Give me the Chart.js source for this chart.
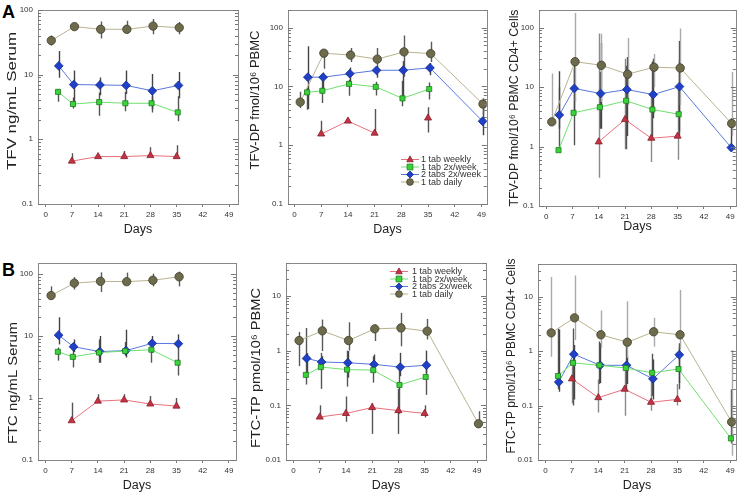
<!DOCTYPE html>
<html><head><meta charset="utf-8">
<script src="https://cdn.jsdelivr.net/npm/chart.js@4.4.0/dist/chart.umd.min.js"></script>
<style>
body{margin:0;background:#fff;width:741px;height:495px;position:relative;overflow:hidden;font-family:"Liberation Sans",Arial,sans-serif}
canvas{position:absolute}
.lab{position:absolute;font:bold 18px "Liberation Sans",Arial,sans-serif;color:#000;line-height:18px}
</style></head><body>
<div class="lab" style="left:2px;top:3px">A</div>
<div class="lab" style="left:2px;top:261px">B</div>
<canvas id="c1"></canvas><canvas id="c2"></canvas><canvas id="c3"></canvas>
<canvas id="c4"></canvas><canvas id="c5"></canvas><canvas id="c6"></canvas>
<script>
// ---------- DATA ----------
const seriesNames = ['1 tab weekly','1 tab 2x/week','2 tabs 2x/week','1 tab daily'];
const dayTicks = [0,7,14,21,28,35,42,49];
const daysWeekly = [7,14,21,28,35];
const days2x     = [3.3,7.3,14.3,21.3,28.3,35.3,49.2];
const days2tab   = [3.5,7.5,14.5,21.5,28.5,35.5,49.3];
const daysDaily  = [1.5,7.7,14.7,21.7,28.7,35.7,49.4];

// Panel A1: TFV ng/mL Serum
const tfvSerumWeekly   = [0.46,0.54,0.54,0.56,0.54];
const tfvSerumWeeklyHi = [0.61,0.58,0.66,0.75,0.81];
const tfvSerumWeeklyLo = [0.46,0.54,0.54,0.56,0.54];
const tfvSerum2x   = [5.4,3.5,3.75,3.6,3.6,2.6,null];
const tfvSerum2xHi = [6.0,4.4,5.3,5.4,4.6,4.6,null];
const tfvSerum2xLo = [3.8,3.0,2.3,2.7,2.6,1.9,null];
const tfvSerum2tab   = [13.6,7.0,6.9,6.8,5.6,6.8,null];
const tfvSerum2tabHi = [23,11.5,9.0,11.5,10.2,10.9,null];
const tfvSerum2tabLo = [8.9,3.6,4.8,5.0,2.9,4.3,null];
const tfvSerumDaily   = [33.5,55,50,50,56,53,null];
const tfvSerumDailyHi = [40,58,66,68,72,65,null];
const tfvSerumDailyLo = [28,52,36,43,42,42,null];

// Panel A2: TFV-DP fmol/10^6 PBMC
const tfvPbmcWeekly   = [1.55,2.57,1.6,null,2.9];
const tfvPbmcWeeklyHi = [2.6,2.8,4.1,null,4.4];
const tfvPbmcWeeklyLo = [1.55,2.4,1.6,null,1.65];
const tfvPbmc2x   = [7.9,8.4,11,9.8,6.25,9.0,null];
const tfvPbmc2xHi = [9.5,15.4,13,12,12.5,11.6,null];
const tfvPbmc2xLo = [4.0,5.2,6.9,7.0,4.6,6.0,null];
const tfvPbmc2tab   = [14.3,14.3,16.4,18.7,18.8,20.6,2.55];
const tfvPbmc2tabHi = [48,17,21,22,27,25,5.0];
const tfvPbmc2tabLo = [4.1,8.7,10,14,6,15.5,1.48];
const tfvPbmcDaily   = [5.4,36.6,34,29,38.5,36,5.0];
const tfvPbmcDailyHi = [8.1,40,45,45,73,57,6.3];
const tfvPbmcDailyLo = [4.3,20,26,17.5,14.5,26,3.3];

// Panel A3: TFV-DP fmol/10^6 PBMC CD4+ Cells
const tfvCd4Weekly   = [null,1.2,2.85,1.38,1.5];
const tfvCd4WeeklyHi = [null,80,30,8,10];
const tfvCd4WeeklyLo = [null,0.3,0.9,0.55,0.6];
const tfvCd42x   = [0.87,3.7,4.6,5.9,4.2,3.5,null];
const tfvCd42xHi = [10,20,18,23,27,28,null];
const tfvCd42xLo = [0.87,1.05,2,0.9,1.5,1.5,null];
const tfvCd42tab   = [3.4,9.5,7.8,9.1,7.5,10.2,0.96];
const tfvCd42tabHi = [18.5,30,55,32,30,60,3];
const tfvCd42tabLo = [2,4,2,1.5,3,1.8,0.85];
const tfvCd4Daily   = [2.6,26.8,23.3,16.5,21.6,21,2.44];
const tfvCd4DailyHi = [17,177,79,67,36,97,18];
const tfvCd4DailyLo = [2.6,5.6,5.6,5,10,5,1.5];

// Panel B1: FTC ng/mL Serum
const ftcSerumWeekly   = [0.43,0.89,0.93,0.80,0.74];
const ftcSerumWeeklyHi = [0.84,1.15,1.15,1.08,1.0];
const ftcSerumWeeklyLo = [0.43,0.89,0.93,0.80,0.74];
const ftcSerum2x   = [5.55,4.6,5.4,5.7,6.0,3.7,null];
const ftcSerum2xHi = [6.5,6.8,8.8,8,7.3,6.1,null];
const ftcSerum2xLo = [4.0,3.1,3.7,4.8,3.7,2.3,null];
const ftcSerum2tab   = [10.3,6.7,5.6,5.8,7.6,7.5,null];
const ftcSerum2tabHi = [20,8.8,10,12.6,10,10.6,null];
const ftcSerum2tabLo = [7.3,5.5,3.7,4.5,5.4,6,null];
const ftcSerumDaily   = [44.8,71,76,75,79,90,null];
const ftcSerumDailyHi = [63,89,106,105,101,109,null];
const ftcSerumDailyLo = [39,56,51,67,63,63,null];

// Panel B2: FTC-TP pmol/10^6 PBMC
const ftcPbmcWeekly   = [0.061,0.071,0.091,0.08,0.071];
const ftcPbmcWeeklyHi = [0.1,0.145,0.11,0.2,0.1];
const ftcPbmcWeeklyLo = [0.061,0.05,0.03,0.03,0.06];
const ftcPbmc2x   = [0.36,0.5,0.45,0.44,0.235,0.33,null];
const ftcPbmc2xHi = [2.6,0.91,1.0,0.79,0.5,0.64,null];
const ftcPbmc2xLo = [0.24,0.2,0.22,0.26,0.07,0.155,null];
const ftcPbmc2tab   = [0.72,0.62,0.6,0.56,0.5,0.54,null];
const ftcPbmc2tabHi = [0.9,0.79,0.98,0.85,0.91,1.0,null];
const ftcPbmc2tabLo = [0.39,0.48,0.32,0.4,0.34,0.39,null];
const ftcPbmcDaily   = [1.53,2.3,1.53,2.5,2.6,2.27,0.046];
const ftcPbmcDailyHi = [2.2,3.7,3.3,3.0,4.9,3.8,0.078];
const ftcPbmcDailyLo = [0.52,0.98,1.0,1.5,1.2,1.6,0.046];

// Panel B3: FTC-TP pmol/10^6 PBMC CD4+ Cells
const ftcCd4Weekly   = [0.31,0.14,0.2,0.115,0.13];
const ftcCd4WeeklyHi = [0.53,0.3,0.45,0.3,0.25];
const ftcCd4WeeklyLo = [0.11,0.075,0.065,0.08,0.1];
const ftcCd42x   = [0.35,0.61,0.55,0.49,0.4,0.47,0.025];
const ftcCd42xHi = [2.6,2.6,1.5,1.2,0.9,1.2,0.2];
const ftcCd42xLo = [0.2,0.1,0.25,0.2,0.15,0.2,0.02];
const ftcCd42tab   = [0.27,0.88,0.55,0.55,0.31,0.86,null];
const ftcCd42tabHi = [2.5,1.3,1.4,0.8,0.7,1.4,null];
const ftcCd42tabLo = [0.18,0.13,0.26,0.25,0.13,0.26,null];
const ftcCd4Daily   = [2.17,4.1,2.0,1.46,2.27,2.0,0.05];
const ftcCd4DailyHi = [23,24.6,5.6,8.3,4.1,13.3,1.05];
const ftcCd4DailyLo = [0.79,1.6,1.15,0.75,1.2,1.1,0.012];

// ---------- STYLE ----------
const FF = '"Liberation Sans", Arial, sans-serif';
const STY = [
  {line:'#e8707c', fill:'#c33344', border:'#86202c', shape:'triangle', r:4.1},
  {line:'#6ee06e', fill:'#3ad43a', border:'#1d7a1d', shape:'rect', r:3.6},
  {line:'#5878dc', fill:'#2040c8', border:'#122a8c', shape:'rectRot', r:4.4},
  {line:'#b8b38e', fill:'#6d6b4c', border:'#3e3d2a', shape:'circle', r:4.2}
];
const ERR_DARK = ['#555','#555','#444','#5a5a5a'];
const ERR_LIGHT = ['#8a8a8a','#555','#444','#aaaaaa'];

const PANELS = [
  {id:'c1', cx:0, cy:0, cw:245, ch:240, area:[38,4,238,204], xr:[-2.05,51.4], yr:[0.1,100],
   title:'TFV ng/mL Serum', tX:12, tY:101, tL:138, dY:230, err:ERR_DARK,
   s:[[daysWeekly,tfvSerumWeekly,tfvSerumWeeklyLo,tfvSerumWeeklyHi],[days2x,tfvSerum2x,tfvSerum2xLo,tfvSerum2xHi],[days2tab,tfvSerum2tab,tfvSerum2tabLo,tfvSerum2tabHi],[daysDaily,tfvSerumDaily,tfvSerumDailyLo,tfvSerumDailyHi]]},
  {id:'c2', cx:245, cy:0, cw:247, ch:240, area:[288,4,487,204], xr:[-1.7,50.4], yr:[0.1,200],
   title:'TFV-DP fmol/10\u2076 PBMC', tX:255, tY:100, tL:139, dY:230, err:ERR_DARK, legend:{mx:410, tx:421, y0:159.5, dy:7.5},
   s:[[daysWeekly,tfvPbmcWeekly,tfvPbmcWeeklyLo,tfvPbmcWeeklyHi],[days2x,tfvPbmc2x,tfvPbmc2xLo,tfvPbmc2xHi],[days2tab,tfvPbmc2tab,tfvPbmc2tabLo,tfvPbmc2tabHi],[daysDaily,tfvPbmcDaily,tfvPbmcDailyLo,tfvPbmcDailyHi]]},
  {id:'c3', cx:492, cy:0, cw:249, ch:240, area:[539,6,740,206], xr:[-1.9,50.5], yr:[0.1,200],
   title:'TFV-DP fmol/10\u2076 PBMC CD4+ Cells', tX:514, tY:108, tL:197, dY:227, err:ERR_LIGHT,
   s:[[daysWeekly,tfvCd4Weekly,tfvCd4WeeklyLo,tfvCd4WeeklyHi],[days2x,tfvCd42x,tfvCd42xLo,tfvCd42xHi],[days2tab,tfvCd42tab,tfvCd42tabLo,tfvCd42tabHi],[daysDaily,tfvCd4Daily,tfvCd4DailyLo,tfvCd4DailyHi]]},
  {id:'c4', cx:0, cy:240, cw:245, ch:255, area:[38,263,236,460], xr:[-2,50.9], yr:[0.1,150],
   title:'FTC ng/mL Serum', tX:13, tY:383, tL:122, dY:486, err:ERR_DARK,
   s:[[daysWeekly,ftcSerumWeekly,ftcSerumWeeklyLo,ftcSerumWeeklyHi],[days2x,ftcSerum2x,ftcSerum2xLo,ftcSerum2xHi],[days2tab,ftcSerum2tab,ftcSerum2tabLo,ftcSerum2tabHi],[daysDaily,ftcSerumDaily,ftcSerumDailyLo,ftcSerumDailyHi]]},
  {id:'c5', cx:245, cy:240, cw:247, ch:255, area:[286,263,486,460], xr:[-2,51.4], yr:[0.01,40],
   title:'FTC-TP pmol/10\u2076 PBMC', tX:256, tY:368, tL:160, dY:486, err:ERR_DARK, legend:{mx:399, tx:412, y0:271.5, dy:7.5},
   s:[[daysWeekly,ftcPbmcWeekly,ftcPbmcWeeklyLo,ftcPbmcWeeklyHi],[days2x,ftcPbmc2x,ftcPbmc2xLo,ftcPbmc2xHi],[days2tab,ftcPbmc2tab,ftcPbmc2tabLo,ftcPbmc2tabHi],[daysDaily,ftcPbmcDaily,ftcPbmcDailyLo,ftcPbmcDailyHi]]},
  {id:'c6', cx:492, cy:240, cw:249, ch:255, area:[538,264,738,460], xr:[-2,50.5], yr:[0.01,40],
   title:'FTC-TP pmol/10\u2076 PBMC CD4+ Cells', tX:511, tY:356, tL:195, dY:486, err:ERR_LIGHT,
   s:[[daysWeekly,ftcCd4Weekly,ftcCd4WeeklyLo,ftcCd4WeeklyHi],[days2x,ftcCd42x,ftcCd42xLo,ftcCd42xHi],[days2tab,ftcCd42tab,ftcCd42tabLo,ftcCd42tabHi],[daysDaily,ftcCd4Daily,ftcCd4DailyLo,ftcCd4DailyHi]]}
];

const DAYS_SIZE = 12.5, TICK_SIZE = 8, TITLE_SIZE = 13;

function logTicks(min,max){
  const out=[];
  for(let k=-3;k<=3;k++) for(let m=1;m<=9;m++){
    const v=parseFloat((m*Math.pow(10,k)).toPrecision(6));
    if(v>=min*0.999 && v<=max*1.001) out.push({value:v});
  }
  return out;
}
const isPow10 = v => Math.abs(Math.log10(v)-Math.round(Math.log10(v)))<1e-9;

function marker(ctx, shape, x, y, r, fill, border){
  ctx.save();
  ctx.fillStyle=fill; ctx.strokeStyle=border; ctx.lineWidth=0.8;
  ctx.beginPath();
  if(shape==='triangle'){
    ctx.moveTo(x, y-r*1.1); ctx.lineTo(x+r, y+r*0.7); ctx.lineTo(x-r, y+r*0.7); ctx.closePath();
  } else if(shape==='rect'){
    ctx.rect(x-r, y-r, 2*r, 2*r);
  } else if(shape==='rectRot'){
    ctx.moveTo(x, y-r); ctx.lineTo(x+r, y); ctx.lineTo(x, y+r); ctx.lineTo(x-r, y); ctx.closePath();
  } else {
    ctx.arc(x, y, r, 0, Math.PI*2);
  }
  ctx.fill(); ctx.stroke();
  ctx.restore();
}

const errPlugin = {
  id:'errBars',
  beforeDatasetsDraw(chart){
    const {ctx, chartArea:a, scales:{x,y}} = chart;
    ctx.save();
    ctx.beginPath(); ctx.rect(a.left,a.top,a.right-a.left,a.bottom-a.top); ctx.clip();
    ctx.lineWidth=1.4;
    chart.data.datasets.forEach(ds=>{
      ctx.strokeStyle = ds.errColor;
      ds.data.forEach((p,i)=>{
        if(p.y==null) return;
        const lo=ds.errLo[i], hi=ds.errHi[i];
        if(lo==null||hi==null) return;
        const px=Math.round(x.getPixelForValue(p.x))+0.5;
        ctx.beginPath();
        ctx.moveTo(px, y.getPixelForValue(lo));
        ctx.lineTo(px, y.getPixelForValue(hi));
        ctx.stroke();
      });
    });
    ctx.restore();
  }
};

const framePlugin = {
  id:'frame',
  afterDraw(chart, args, opts){
    const {ctx, chartArea:a, scales:{y}} = chart;
    ctx.save();
    ctx.strokeStyle='#888'; ctx.lineWidth=1;
    ctx.strokeRect(Math.round(a.left)+0.5, Math.round(a.top)+0.5, Math.round(a.right-a.left), Math.round(a.bottom-a.top));
    ctx.strokeStyle='#777';
    y.ticks.forEach(t=>{
      const py=Math.round(y.getPixelForValue(t.value))+0.5;
      const len = isPow10(t.value)?5:3;
      ctx.beginPath();
      ctx.moveTo(a.left, py); ctx.lineTo(a.left+len, py);
      ctx.moveTo(a.right, py); ctx.lineTo(a.right-len, py);
      ctx.stroke();
    });
    // rotated y-axis title, fitted to the reference length
    const p = opts.p;
    ctx.translate(p.tX-p.cx, p.tY-p.cy);
    ctx.rotate(-Math.PI/2);
    ctx.font = TITLE_SIZE+'px '+FF;
    ctx.textAlign='center'; ctx.textBaseline='middle'; ctx.fillStyle='#222';
    const w = ctx.measureText(p.title).width;
    ctx.scale(p.tL/w, 1);
    ctx.fillText(p.title, 0, 0);
    ctx.restore();
  }
};

const legendPlugin = {
  id:'legendBox',
  afterDraw(chart, args, opts){
    const L = opts && opts.cfg; if(!L) return;
    const ctx=chart.ctx, ox=opts.ox, oy=opts.oy;
    ctx.save();
    ctx.font = '9px '+FF; ctx.textBaseline='middle'; ctx.fillStyle='#333';
    seriesNames.forEach((name,i)=>{
      const st=STY[i];
      const yy=L.y0+i*L.dy-oy, mx=L.mx-ox;
      ctx.strokeStyle=st.line; ctx.lineWidth=1;
      ctx.beginPath(); ctx.moveTo(mx-9,yy); ctx.lineTo(mx+9,yy); ctx.stroke();
      marker(ctx, st.shape, mx, yy, st.r*0.8, st.fill, st.border);
      ctx.fillText(name, L.tx-ox, yy+0.5);
    });
    ctx.restore();
  }
};

PANELS.forEach(p=>{
  const cv=document.getElementById(p.id);
  cv.width=p.cw; cv.height=p.ch;
  cv.style.left=p.cx+'px'; cv.style.top=p.cy+'px';
  cv.style.width=p.cw+'px'; cv.style.height=p.ch+'px';
  const datasets = p.s.map((s,i)=>{
    const st=STY[i];
    return {
      label: seriesNames[i],
      data: s[1].map((v,j)=>({x:s[0][j], y:v})),
      errLo: s[2], errHi: s[3], errColor: p.err[i],
      borderColor: st.line, borderWidth: 1,
      pointStyle: st.shape, pointRadius: st.r,
      pointBackgroundColor: st.fill, pointBorderColor: st.border, pointBorderWidth: 0.8,
      spanGaps: false, fill: false, tension: 0
    };
  });
  const dlh = DAYS_SIZE*1.2;
  new Chart(cv, {
    type:'line',
    data:{datasets},
    options:{
      responsive:false, animation:false, devicePixelRatio:1,
      layout:{padding:{left:0, top:p.area[1]-p.cy, right:p.cx+p.cw-p.area[2], bottom:0}},
      plugins:{legend:{display:false}, tooltip:{enabled:false},
        legendBox:{cfg:p.legend||null, ox:p.cx, oy:p.cy}, frame:{p}},
      scales:{
        x:{type:'linear', min:p.xr[0], max:p.xr[1],
          afterBuildTicks(s){ s.ticks = dayTicks.map(v=>({value:v})); },
          afterFit(s){ s.height = p.cy+p.ch-p.area[3]; },
          grid:{display:true, drawOnChartArea:false, drawTicks:true, tickLength:3, color:'#777'},
          border:{display:false},
          ticks:{font:{size:TICK_SIZE,family:FF}, color:'#333', padding:3, autoSkip:false, maxRotation:0,
            callback:v=>String(v)},
          title:{display:true, text:'Days', font:{size:DAYS_SIZE,family:FF}, color:'#222',
            padding:{top:0, bottom:Math.max(0,p.cy+p.ch-p.dY-dlh/2)}}
        },
        y:{type:'logarithmic', min:p.yr[0], max:p.yr[1],
          afterBuildTicks(s){ s.ticks = logTicks(p.yr[0],p.yr[1]); },
          afterFit(s){ s.width = p.area[0]-p.cx; },
          grid:{display:false, drawTicks:false, tickLength:0},
          border:{display:false},
          ticks:{font:{size:TICK_SIZE,family:FF}, color:'#333', padding:5, autoSkip:false,
            callback:v=> isPow10(v) ? String(v) : ''},
          title:{display:false}
        }
      }
    },
    plugins:[errPlugin, framePlugin, legendPlugin]
  });
});
</script>
</body></html>
